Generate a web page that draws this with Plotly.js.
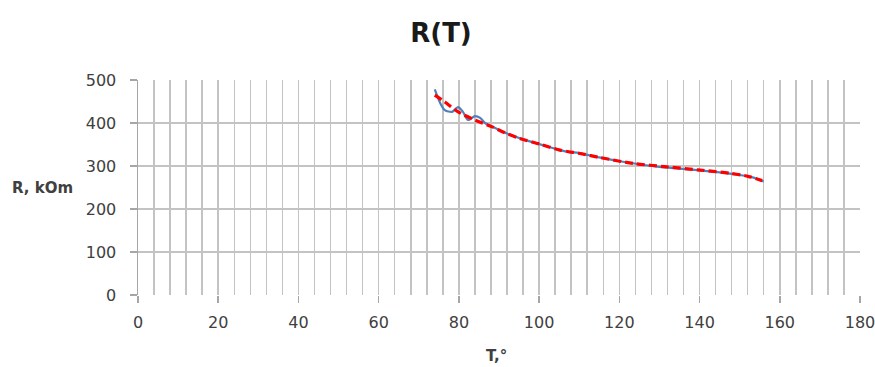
<!DOCTYPE html>
<html>
<head>
<meta charset="utf-8">
<script src="https://cdn.plot.ly/plotly-3.0.1.min.js"></script>
<style>html,body{margin:0;padding:0;background:#fff;}#chart{width:875px;height:367px;}</style>
</head>
<body>
<div id="chart"></div>
<script>
// Measured data (blue)
const measT = [74, 75.3, 76.5, 78.3, 79.8, 81, 82.3, 84, 85.3, 86.5, 88, 90, 93, 96, 100, 104, 107, 110, 115, 120, 125, 130, 135, 140, 145, 150, 153, 156];
const measR = [478, 447, 430, 426, 437, 426, 407, 416, 412, 400, 393, 384, 372, 362, 351, 340, 333, 330, 320, 311, 304, 298, 294, 290, 285, 279, 274, 264];
// Trend (red dashed)
const trendT = [74, 76.5, 79.8, 84, 88.3, 91.5, 95.2, 100.2, 105.2, 110.2, 115, 123.4, 131.9, 139.6, 147.6, 152.1, 155.6];
const trendR = [465, 449, 426, 407, 391, 377, 364, 351, 337, 329, 320, 306, 298, 291, 283, 276, 266];
const xTicks = [0, 20, 40, 60, 80, 100, 120, 140, 160, 180];
const yTicks = [0, 100, 200, 300, 400, 500];

const fontFam = '"DejaVu Sans", "Open Sans", sans-serif';
const gridCol = '#c3c3c3';

const traces = [
  {x: measT, y: measR, type: 'scatter', mode: 'lines', line: {color: '#4f81bd', width: 2.2, shape: 'spline', smoothing: 0.8}, hoverinfo: 'skip'},
  {x: trendT, y: trendR, type: 'scatter', mode: 'lines', line: {color: '#ff0000', width: 3.2, dash: '8px,4px', shape: 'spline', smoothing: 0.8}, hoverinfo: 'skip'}
];

const layout = {
  width: 875, height: 367,
  margin: {l: 138, r: 15, t: 80, b: 72},
  paper_bgcolor: '#ffffff', plot_bgcolor: '#ffffff',
  showlegend: false,
  title: {text: '<b>R(T)</b>', font: {family: fontFam, size: 26, color: '#1a1a1a'}, x: 0.504, xref: 'container', y: 0.91, yref: 'container', yanchor: 'middle'},
  xaxis: {
    range: [0, 180], tickvals: xTicks, ticktext: xTicks.map(String),
    showgrid: true, gridcolor: gridCol, gridwidth: 1.5,
    minor: {dtick: 4, tick0: 0, showgrid: true, gridcolor: gridCol, gridwidth: 1.5, ticks: ''},
    ticks: 'outside', ticklen: 7, tickcolor: '#a6a6a6', tickwidth: 1.5,
    ticklabelstandoff: 6,
    ticklabeloverflow: 'allow',
    showline: false, zeroline: false,
    tickfont: {family: fontFam, size: 16, color: '#404040'},
    fixedrange: true
  },
  yaxis: {
    range: [0, 500], tickvals: yTicks, ticktext: yTicks.map(String),
    showgrid: true, gridcolor: gridCol, gridwidth: 1.5,
    ticks: 'outside', ticklen: 7, tickcolor: '#a6a6a6', tickwidth: 1.5,
    ticklabelstandoff: 10,
    showline: true, linecolor: '#a6a6a6', linewidth: 1.5,
    zeroline: false,
    tickfont: {family: fontFam, size: 16, color: '#404040'},
    fixedrange: true
  },
  annotations: [
    {text: '<b>R, kOm</b>', xref: 'paper', yref: 'paper', x: -0.177, y: 0.497, xanchor: 'left', yanchor: 'middle', showarrow: false, font: {family: fontFam, size: 15, color: '#404040'}},
    {text: '<b>T,°</b>', xref: 'paper', yref: 'paper', x: 0.497, y: -0.283, xanchor: 'center', yanchor: 'middle', showarrow: false, font: {family: fontFam, size: 15, color: '#404040'}}
  ]
};

Plotly.newPlot('chart', traces, layout, {displayModeBar: false, staticPlot: true});
</script>
</body>
</html>
